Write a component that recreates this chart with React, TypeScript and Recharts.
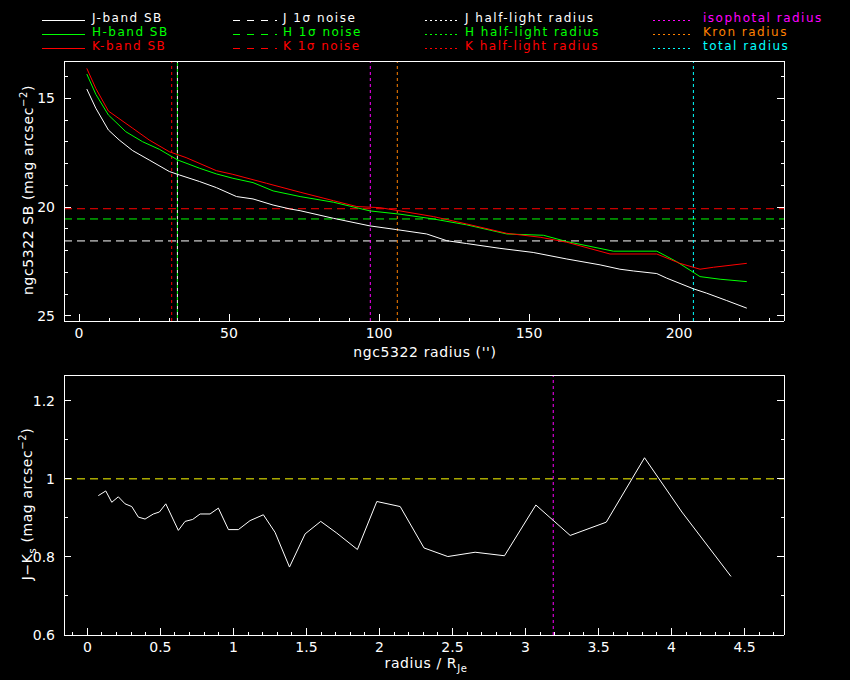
import React from 'react';
import { LineChart, Line, XAxis, YAxis, ReferenceLine } from 'recharts';

// surface brightness profiles (radius in arcsec, SB in mag/arcsec^2)
const jRadius = [2.6, 5.6, 9.8, 13.4, 17.9, 23.4, 30.1, 33.5, 40.2, 45.8, 52.5, 58, 64.7, 70.3, 73.7, 84.8, 97, 105.9, 115.9, 122.6, 129.2, 140.3, 151.4, 162.6, 173.7, 180.3, 184.8, 192.6, 195.9, 204.8, 209.2, 215.9, 222.6];
const jSB = [14.57, 15.45, 16.45, 16.91, 17.4, 17.83, 18.36, 18.52, 18.82, 19.1, 19.51, 19.62, 19.9, 20.08, 20.16, 20.51, 20.86, 21.03, 21.23, 21.54, 21.67, 21.89, 22.08, 22.38, 22.65, 22.85, 22.93, 23.05, 23.26, 23.75, 23.95, 24.29, 24.64];

const hRadius = [2.6, 5.6, 9.8, 15.6, 21.2, 26.8, 32.9, 40.2, 45.8, 51.3, 58, 64.7, 73.7, 84.8, 97, 107, 118.1, 129.2, 142.6, 154.8, 162.6, 178.1, 192.6, 199.2, 207, 213.7, 222.6];
const hSB = [13.88, 14.81, 15.76, 16.53, 16.99, 17.34, 17.83, 18.21, 18.47, 18.67, 18.87, 19.25, 19.51, 19.77, 20.17, 20.32, 20.54, 20.81, 21.23, 21.29, 21.58, 22.02, 22.02, 22.5, 23.19, 23.31, 23.42];

const kRadius = [2.6, 5.6, 9.8, 17.9, 23.4, 30.1, 35.7, 45.8, 51.3, 62.5, 73.7, 84.8, 92.6, 100.3, 107, 118.1, 129.2, 142.6, 153.7, 162.6, 177, 192.6, 200.3, 207, 211.5, 222.6];
const kSB = [13.62, 14.54, 15.58, 16.37, 16.91, 17.45, 17.72, 18.32, 18.49, 18.9, 19.31, 19.7, 19.97, 20.02, 20.17, 20.43, 20.77, 21.2, 21.38, 21.61, 22.15, 22.15, 22.58, 22.85, 22.76, 22.58];

// noise levels and characteristic radii
const noiseJ = 21.55;
const noiseH = 20.54;
const noiseK = 20.07;
const halfLightJ = 32.8;
const halfLightH = 32.8;
const halfLightK = 30.9;
const isophotalRadius = 97.1;
const kronRadius = 106.1;
const totalRadius = 204.8;

// J-Ks colour profile
const colourRadius = [0.075, 0.126, 0.167, 0.212, 0.258, 0.304, 0.349, 0.395, 0.452, 0.493, 0.537, 0.623, 0.669, 0.721, 0.772, 0.84, 0.897, 0.966, 1.034, 1.114, 1.205, 1.285, 1.384, 1.491, 1.598, 1.708, 1.849, 1.982, 2.142, 2.305, 2.468, 2.655, 2.856, 3.071, 3.306, 3.553, 3.815, 4.071, 4.407];
const colourJK = [0.957, 0.969, 0.94, 0.954, 0.936, 0.929, 0.902, 0.897, 0.91, 0.915, 0.936, 0.868, 0.891, 0.896, 0.91, 0.91, 0.925, 0.87, 0.87, 0.893, 0.908, 0.863, 0.774, 0.859, 0.891, 0.861, 0.819, 0.942, 0.929, 0.823, 0.801, 0.812, 0.803, 0.933, 0.855, 0.889, 1.054, 0.915, 0.75];
const colourRef = 1.0;
const isophotalRel = 3.19;

// axis ticks
const sbXMajor = [0, 50, 100, 150, 200];
const sbYMajor = [15, 20, 25];
const colXMajor = [0, 0.5, 1, 1.5, 2, 2.5, 3, 3.5, 4, 4.5];
const colYMajor = [0.6, 0.8, 1, 1.2];

const range = (a: number, b: number, step: number) => {
  const out: number[] = [];
  for (let i = 0; a + i * step <= b + 1e-9; i++) out.push(Math.round((a + i * step) * 1000) / 1000);
  return out;
};
const sbXTicks = range(0, 230, 10);
const sbYTicks = range(14, 25, 1);
const colXTicks = range(-0.1, 4.7, 0.1);
const colYTicks = range(0.6, 1.2, 0.1);

const toPoints = (xs: number[], ys: number[]) => xs.map((x, i) => ({ r: x, v: ys[i] }));
const jData = toPoints(jRadius, jSB);
const hData = toPoints(hRadius, hSB);
const kData = toPoints(kRadius, kSB);
const colourData = toPoints(colourRadius, colourJK);

const FONT = '"DejaVu Sans", sans-serif';
const VDOT = '3 3';
const VDOT_SHIFTED = '0 3 3 0';
const LDOT = '1.5 3.5';
const DASH = '8 5';
const CRISP = 'crispEdges';

const makeTick = (side: 'bottom' | 'top' | 'left' | 'right', majors: number[]) => (props: any) => {
  const { x, y, payload } = props;
  const v = payload.value;
  const major = majors.some((m) => Math.abs(m - v) < 1e-6);
  const len = major ? 7 : 3.5;
  let line;
  let label = null;
  if (side === 'bottom') {
    line = <line x1={x} y1={y} x2={x} y2={y - len} stroke="#fff" shapeRendering={CRISP} />;
    if (major)
      label = (
        <text x={x} y={y + 17} textAnchor="middle" fill="#fff" fontSize={14} fontFamily={FONT}>
          {String(v)}
        </text>
      );
  } else if (side === 'top') {
    line = <line x1={x} y1={y} x2={x} y2={y + len} stroke="#fff" shapeRendering={CRISP} />;
  } else if (side === 'left') {
    line = <line x1={x} y1={y} x2={x + len} y2={y} stroke="#fff" shapeRendering={CRISP} />;
    if (major)
      label = (
        <text x={x - 9} y={y + 5} textAnchor="end" fill="#fff" fontSize={14} fontFamily={FONT}>
          {String(v)}
        </text>
      );
  } else {
    line = <line x1={x} y1={y} x2={x - len} y2={y} stroke="#fff" shapeRendering={CRISP} />;
  }
  return (
    <g>
      {line}
      {label}
    </g>
  );
};

const axisCommon = {
  type: 'number' as const,
  allowDataOverflow: true,
  interval: 0 as const,
  tickSize: 0,
  tickMargin: 0,
  tickLine: false,
  axisLine: { stroke: '#fff', shapeRendering: CRISP },
};

const SBChart = () => (
  <LineChart width={850} height={365} margin={{ top: 60, right: 65, bottom: 0, left: 0 }}>
    <XAxis {...axisCommon} dataKey="r" domain={[-5, 235]} ticks={sbXTicks} height={44} tick={makeTick('bottom', sbXMajor)} />
    <XAxis {...axisCommon} xAxisId="top" orientation="top" domain={[-5, 235]} ticks={sbXTicks} height={1} tick={makeTick('top', sbXMajor)} />
    <YAxis {...axisCommon} domain={[13.28, 25.23]} reversed ticks={sbYTicks} width={64} tick={makeTick('left', sbYMajor)} />
    <YAxis {...axisCommon} yAxisId="right" orientation="right" domain={[13.28, 25.23]} reversed ticks={sbYTicks} width={1} tick={makeTick('right', sbYMajor)} />
    <ReferenceLine y={noiseK} stroke="#ff0000" strokeDasharray={DASH} />
    <ReferenceLine y={noiseH} stroke="#00ff00" strokeDasharray={DASH} />
    <ReferenceLine y={noiseJ} stroke="#ffffff" strokeDasharray={DASH} />
    <ReferenceLine x={halfLightK} stroke="#ff0000" strokeDasharray={VDOT} />
    <ReferenceLine x={halfLightJ} stroke="#ffffff" strokeDasharray={VDOT} />
    <ReferenceLine x={halfLightH} stroke="#00ff00" strokeDasharray={VDOT_SHIFTED} />
    <ReferenceLine x={isophotalRadius} stroke="#ff00ff" strokeDasharray={VDOT} />
    <ReferenceLine x={kronRadius} stroke="#ff8000" strokeDasharray={VDOT} />
    <ReferenceLine x={totalRadius} stroke="#00ffff" strokeDasharray={VDOT} />
    <Line data={jData} dataKey="v" stroke="#ffffff" strokeWidth={1} dot={false} isAnimationActive={false} />
    <Line data={hData} dataKey="v" stroke="#00ff00" strokeWidth={1} dot={false} isAnimationActive={false} />
    <Line data={kData} dataKey="v" stroke="#ff0000" strokeWidth={1} dot={false} isAnimationActive={false} />
  </LineChart>
);

const ColourChart = () => (
  <LineChart width={850} height={315} margin={{ top: 9, right: 65, bottom: 0, left: 0 }}>
    <XAxis {...axisCommon} dataKey="r" domain={[-0.16, 4.77]} ticks={colXTicks} height={45} tick={makeTick('bottom', colXMajor)} />
    <XAxis {...axisCommon} xAxisId="top" orientation="top" domain={[-0.16, 4.77]} ticks={colXTicks} height={1} tick={makeTick('top', colXMajor)} />
    <YAxis {...axisCommon} domain={[0.6, 1.266]} ticks={colYTicks} width={64} tick={makeTick('left', colYMajor)} />
    <YAxis {...axisCommon} yAxisId="right" orientation="right" domain={[0.6, 1.266]} ticks={colYTicks} width={1} tick={makeTick('right', colYMajor)} />
    <ReferenceLine y={colourRef} stroke="#ffff00" strokeDasharray={DASH} />
    <ReferenceLine x={isophotalRel} stroke="#ff00ff" strokeDasharray={VDOT} />
    <Line data={colourData} dataKey="v" stroke="#ffffff" strokeWidth={1} dot={false} isAnimationActive={false} />
  </LineChart>
);

const legendCols = [
  [
    { label: 'J-band SB', color: '#ffffff' },
    { label: 'H-band SB', color: '#00ff00' },
    { label: 'K-band SB', color: '#ff0000' },
  ],
  [
    { label: 'J 1σ noise', color: '#ffffff' },
    { label: 'H 1σ noise', color: '#00ff00' },
    { label: 'K 1σ noise', color: '#ff0000' },
  ],
  [
    { label: 'J half-light radius', color: '#ffffff' },
    { label: 'H half-light radius', color: '#00ff00' },
    { label: 'K half-light radius', color: '#ff0000' },
  ],
  [
    { label: 'isophotal radius', color: '#ff00ff' },
    { label: 'Kron radius', color: '#ff8000' },
    { label: 'total radius', color: '#00ffff' },
  ],
];
const legendPos = [
  { x1: 42, x2: 85, tx: 92, dash: undefined as string | undefined },
  { x1: 233, x2: 277, tx: 283, dash: '7 7' },
  { x1: 425, x2: 457, tx: 465, dash: LDOT },
  { x1: 653, x2: 693, tx: 703, dash: LDOT },
];
const rowY = [20, 34, 48];

const Overlay = () => (
  <svg width={850} height={680} style={{ position: 'absolute', left: 0, top: 0, pointerEvents: 'none' }} fontFamily={FONT}>
    {legendCols.map((col, ci) =>
      col.map((item, ri) => (
        <g key={`${ci}-${ri}`}>
          <line x1={legendPos[ci].x1} x2={legendPos[ci].x2} y1={rowY[ri]} y2={rowY[ri]} stroke={item.color} strokeDasharray={legendPos[ci].dash} shapeRendering={CRISP} />
          <text x={legendPos[ci].tx} y={rowY[ri] + 1.5} fill={item.color} fontSize={12} letterSpacing={1.5}>
            {item.label}
          </text>
        </g>
      ))
    )}
    <text x={425} y={357} textAnchor="middle" fill="#fff" fontSize={14} letterSpacing={0.6}>
      ngc5322 radius ('')
    </text>
    <text transform="translate(33,190) rotate(-90)" textAnchor="middle" fill="#fff" fontSize={14} letterSpacing={0.6}>
      ngc5322 SB (mag arcsec
      <tspan dy={-6} fontSize={10}>−2</tspan>
      <tspan dy={6}>)</tspan>
    </text>
    <text x={426} y={668} textAnchor="middle" fill="#fff" fontSize={14} letterSpacing={0.6}>
      radius / R
      <tspan dy={4} fontSize={10}>Je</tspan>
    </text>
    <text transform="translate(32,504) rotate(-90)" textAnchor="middle" fill="#fff" fontSize={14} letterSpacing={0.6}>
      J−K
      <tspan dy={4} fontSize={10}>s</tspan>
      <tspan dy={-4}> (mag arcsec</tspan>
      <tspan dy={-6} fontSize={10}>−2</tspan>
      <tspan dy={6}>)</tspan>
    </text>
  </svg>
);

export default function App() {
  return (
    <div style={{ position: 'absolute', left: 0, top: 0, width: 850, height: 680, background: '#000', overflow: 'hidden' }}>
      <div style={{ position: 'absolute', left: 0, top: 0 }}>
        <SBChart />
      </div>
      <div style={{ position: 'absolute', left: 0, top: 365 }}>
        <ColourChart />
      </div>
      <Overlay />
    </div>
  );
}
